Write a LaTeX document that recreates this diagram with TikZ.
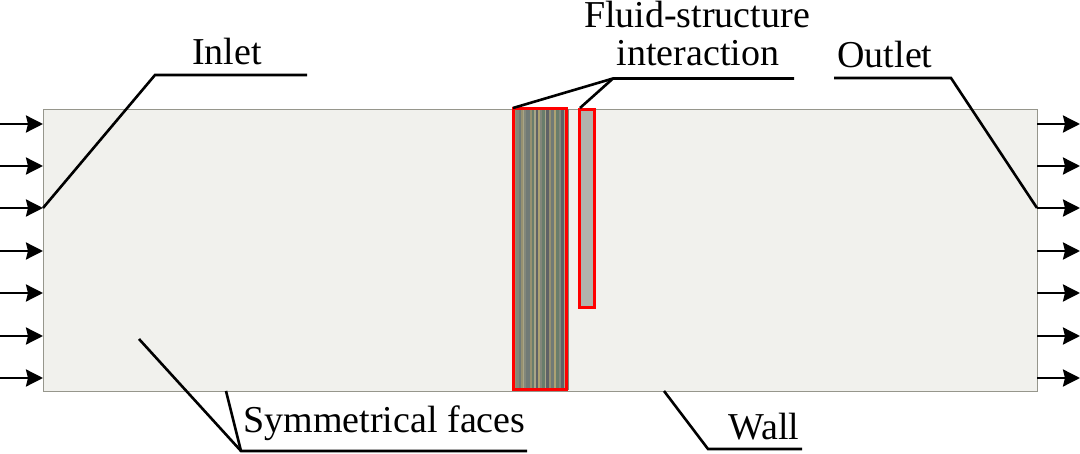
\documentclass[tikz,border=0pt]{standalone}
\usepackage{fontspec}
\setmainfont{Liberation Serif}
\usetikzlibrary{arrows.meta}
\definecolor{domainfill}{RGB}{241,241,237}
\definecolor{domainedge}{RGB}{150,150,140}
\definecolor{plategray}{RGB}{178,178,172}
\definecolor{sa}{RGB}{130,135,122}
\definecolor{sb}{RGB}{150,145,112}
\definecolor{sc}{RGB}{112,122,118}
\definecolor{sd}{RGB}{168,165,135}
\definecolor{se}{RGB}{105,125,108}
\definecolor{sf}{RGB}{172,162,115}
\definecolor{sg}{RGB}{95,98,102}
\tikzset{
  lead/.style={draw=black,line width=2.6pt,line join=miter},
  flow/.style={draw=black,line width=2.6pt,-{Stealth[length=17pt,width=17pt,inset=2pt]}},
  label/.style={font=\fontsize{38}{40}\selectfont,inner sep=0pt,align=center,text=black},
  redbox/.style={draw=red,line width=3pt,inner sep=0pt,outer sep=0pt}
}
\begin{document}
\begin{tikzpicture}[x=1pt,y=-1pt]
\useasboundingbox (0,0) rectangle (1080,454);
\fill[white] (0,0) rectangle (1080,454);
% domain
\node[draw=domainedge,fill=domainfill,line width=0.9pt,minimum width=994pt,minimum height=282pt,inner sep=0pt,outer sep=0pt,anchor=north west] (domain) at (43,109) {};
% stripes of the porous block
\def\stripex{514}
\foreach \c/\w in {sb/2,sa/3,sc/2,sb/2,sd/1,sa/2,sc/4,sb/2,se/2,sd/2,sg/2,sf/2,sa/2,se/3,sd/1,sg/3,sb/2,sc/3,sf/2,se/3,sa/2,sg/3,sd/2,sb/2,sa/1}{
  \fill[\c] (\stripex,109) rectangle ++(\w,281);
  \pgfmathparse{\stripex+\w}\global\let\stripex\pgfmathresult
}
\node[redbox,minimum width=53pt,minimum height=281pt,anchor=north west] (block) at (513.5,108.8) {};
\node[redbox,fill=plategray,minimum width=15pt,minimum height=198pt,anchor=north west] (plate) at (579.5,109.5) {};
% inlet / outlet arrows
\foreach \i/\y in {1/124,2/166,3/208,4/251,5/293,6/336,7/378}{
  \coordinate (inS\i) at (0,\y);
  \coordinate (inE\i) at (43,\y);
  \coordinate (outS\i) at (1037,\y);
  \coordinate (outE\i) at (1080,\y);
  \draw[flow] (inS\i) -- (inE\i);
  \draw[flow] (outS\i) -- (outE\i);
}
% labels
\node[label,anchor=base] (inlet) at (227,64.5) {Inlet};
\node[label,anchor=base] (fsi1) at (697,28) {Fluid-structure};
\node[label,anchor=base] (fsi2) at (698,66) {interaction};
\node[label,anchor=base] (outlet) at (885,67.5) {Outlet};
\node[label,anchor=base] (sym) at (384.5,433) {Symmetrical faces};
\node[label,anchor=base] (wall) at (764,439) {Wall};
% leaders
\coordinate (inletR) at (307,75);
\coordinate (inletK) at (155,75);
\coordinate (inletT) at (43,208);
\draw[lead] (inletR) -- (inletK) -- (inletT);
\coordinate (fsiR) at (794,78.5);
\coordinate (fsiK) at (613,78.5);
\coordinate (fsiA) at (513,108);
\coordinate (fsiB) at (580,108);
\draw[lead] (fsiR) -- (fsiK) -- (fsiA);
\draw[lead] (fsiK) -- (fsiB);
\coordinate (outL) at (834,78);
\coordinate (outK) at (951,78);
\coordinate (outT) at (1037,208);
\draw[lead] (outL) -- (outK) -- (outT);
\coordinate (symR) at (527,451);
\coordinate (symK) at (241,451);
\coordinate (symA) at (139,339);
\coordinate (symB) at (226,391);
\draw[lead] (symR) -- (symK) -- (symA);
\draw[lead] (symK) -- (symB);
\coordinate (wallR) at (802,449);
\coordinate (wallK) at (708,449);
\coordinate (wallT) at (664,391);
\draw[lead] (wallR) -- (wallK) -- (wallT);
\end{tikzpicture}
\end{document}
